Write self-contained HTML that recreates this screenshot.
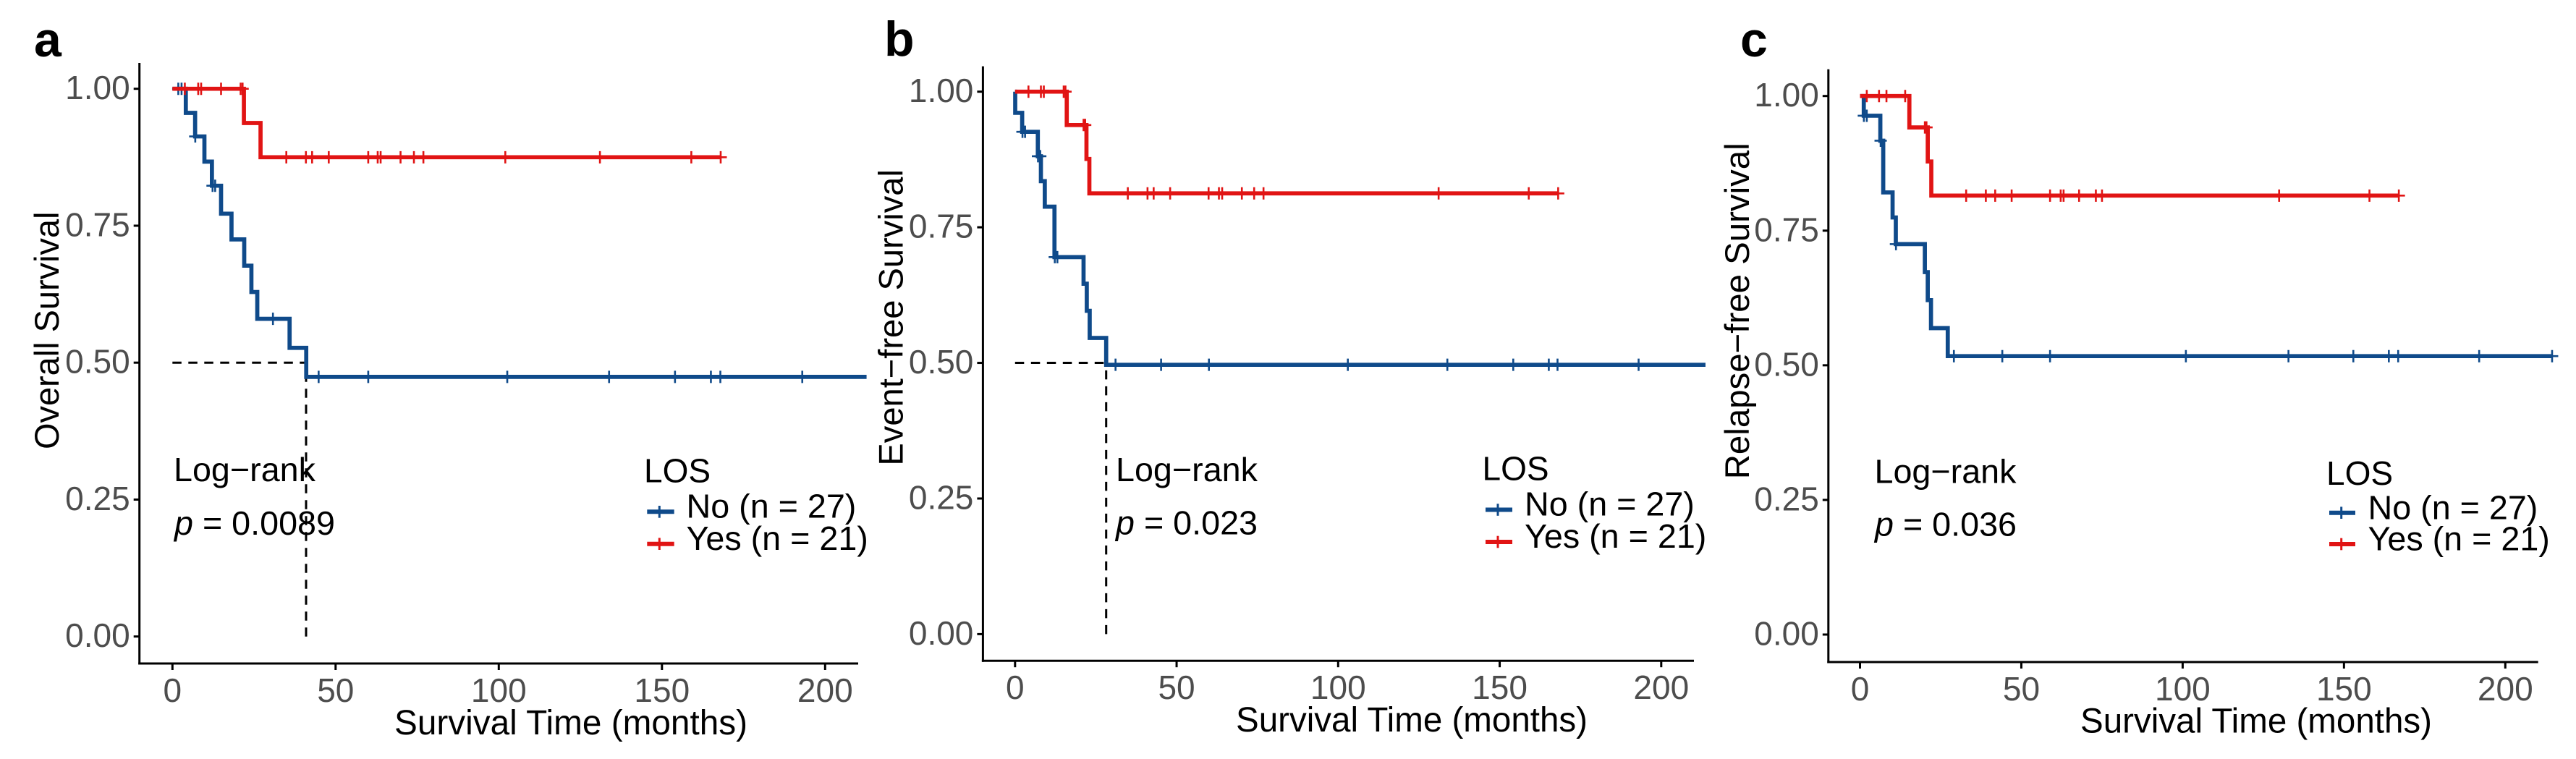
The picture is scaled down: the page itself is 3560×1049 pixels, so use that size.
<!DOCTYPE html>
<html lang="en">
<head>
<meta charset="utf-8">
<title>Survival curves by LOS</title>
<style>
html,body{margin:0;padding:0;background:#fff;}
svg{display:block;}
text{font-family:"Liberation Sans",Arial,sans-serif;}
</style>
</head>
<body>
<svg id="figure" xmlns="http://www.w3.org/2000/svg" width="3560" height="1049" viewBox="0 0 3560 1049">
  <rect x="0" y="0" width="3560" height="1049" fill="#ffffff"/>
  <g id="panel-a"></g>
  <g id="panel-b"></g>
  <g id="panel-c"></g>

  <g fill="#000">
    <text x="47" y="78" font-size="68" font-weight="700">a</text>
    <text transform="translate(81,621) rotate(-90)" font-size="47" textLength="328.5" lengthAdjust="spacingAndGlyphs">Overall Survival</text>
    <text x="545" y="1015" font-size="48" textLength="488" lengthAdjust="spacingAndGlyphs">Survival Time (months)</text>
    <text x="240" y="665" font-size="46.7">Log−rank</text>
    <text x="241" y="739" font-size="46.7"><tspan font-style="italic">p</tspan> = 0.0089</text>
    <text x="890" y="666.7" font-size="46">LOS</text>
    <line x1="894.3" x2="931.7" y1="707.3" y2="707.3" stroke="#0f4a8a" stroke-width="6"/>
    <line x1="911.3" x2="911.3" y1="699" y2="715.7" stroke="#0f4a8a" stroke-width="3"/>
    <line x1="894.3" x2="931.7" y1="751.7" y2="751.7" stroke="#e11414" stroke-width="6"/>
    <line x1="911.3" x2="911.3" y1="743.4" y2="760" stroke="#e11414" stroke-width="3"/>
    <text x="948.5" y="715.7" font-size="46.7">No (n = 27)</text>
    <text x="948.5" y="760" font-size="46.7">Yes (n = 21)</text>
  </g>

  <g fill="#000">
    <text x="1222" y="77" font-size="68" font-weight="700">b</text>
    <text transform="translate(1247.4,643.6) rotate(-90)" font-size="47" textLength="409.5" lengthAdjust="spacingAndGlyphs">Event−free Survival</text>
    <text x="1708" y="1011" font-size="48" textLength="486" lengthAdjust="spacingAndGlyphs">Survival Time (months)</text>
    <text x="1542" y="665" font-size="46.7">Log−rank</text>
    <text x="1542" y="738.5" font-size="46.7"><tspan font-style="italic">p</tspan> = 0.023</text>
    <text x="2048.5" y="663.7" font-size="46">LOS</text>
    <line x1="2053" x2="2090" y1="704.5" y2="704.5" stroke="#0f4a8a" stroke-width="6"/>
    <line x1="2070" x2="2070" y1="696.2" y2="712.8" stroke="#0f4a8a" stroke-width="3"/>
    <line x1="2053" x2="2090" y1="749" y2="749" stroke="#e11414" stroke-width="6"/>
    <line x1="2070" x2="2070" y1="740.7" y2="757.3" stroke="#e11414" stroke-width="3"/>
    <text x="2107" y="712.7" font-size="46.7">No (n = 27)</text>
    <text x="2107" y="757" font-size="46.7">Yes (n = 21)</text>
  </g>

  <g fill="#000">
    <text x="2405" y="78" font-size="68" font-weight="700">c</text>
    <text transform="translate(2417,662.3) rotate(-90)" font-size="47" textLength="465" lengthAdjust="spacingAndGlyphs">Relapse−free Survival</text>
    <text x="2875" y="1012.3" font-size="48" textLength="486" lengthAdjust="spacingAndGlyphs">Survival Time (months)</text>
    <text x="2590.5" y="667.3" font-size="46.7">Log−rank</text>
    <text x="2591" y="740.6" font-size="46.7"><tspan font-style="italic">p</tspan> = 0.036</text>
    <text x="3215" y="670" font-size="46">LOS</text>
    <line x1="3219" x2="3255" y1="708.7" y2="708.7" stroke="#0f4a8a" stroke-width="6"/>
    <line x1="3235.7" x2="3235.7" y1="700.4" y2="717" stroke="#0f4a8a" stroke-width="3"/>
    <line x1="3219" x2="3255" y1="752" y2="752" stroke="#e11414" stroke-width="6"/>
    <line x1="3235.7" x2="3235.7" y1="743.7" y2="760.3" stroke="#e11414" stroke-width="3"/>
    <text x="3272.5" y="717.3" font-size="46.7">No (n = 27)</text>
    <text x="3272.5" y="760.7" font-size="46.7">Yes (n = 21)</text>
  </g>
</svg>

<script>
// Shared tick values
const xTickValues = [0, 50, 100, 150, 200];
const xTickLabels = ['0', '50', '100', '150', '200'];
const yTickValues = [0, 0.25, 0.5, 0.75, 1];
const yTickLabels = ['0.00', '0.25', '0.50', '0.75', '1.00'];

// Panel a: overall survival
const aNoEventTimes = [4.1, 6.95, 9.8, 12.1, 14.9, 18.1, 22.0, 24.2, 26.0, 35.9, 41.0];
const aNoSurvival = [0.956, 0.913, 0.867, 0.823, 0.772, 0.725, 0.677, 0.629, 0.58, 0.527, 0.474];
const aNoCensored = [1.8, 2.8, 7.0, 12.3, 13.1, 30.8, 44.8, 60, 102.6, 133.8, 154, 165, 167.9, 193];
const aNoEnd = 212.7;
const aYesEventTimes = [21.9, 27.0];
const aYesSurvival = [0.9375, 0.875];
const aYesCensored = [3.8, 7.9, 8.8, 14.9, 20.9, 21.5, 34.9, 40.9, 42.8, 47.9, 60, 62.9, 63.8, 69.9, 74, 76.9, 102, 131, 159, 168];
const aYesEnd = 168;
const aMedian = 40.95;

// Panel b: event-free survival
const bNoEventTimes = [0.05, 2.2, 7.05, 8.0, 9.2, 12.2, 21.2, 22.2, 23.1, 28.2];
const bNoSurvival = [0.961, 0.926, 0.881, 0.835, 0.788, 0.695, 0.646, 0.596, 0.546, 0.4965];
const bNoCensored = [2.3, 3.1, 7.1, 7.8, 12.3, 13.1, 31.1, 45.2, 60, 103, 133.8, 154.2, 165.2, 167.9, 193];
const bNoEnd = 213.7;
const bYesEventTimes = [16.0, 22.1, 23.0];
const bYesSurvival = [0.9385, 0.876, 0.8125];
const bYesCensored = [4.15, 8.0, 8.9, 15.05, 15.6, 21.2, 21.7, 34.9, 41, 42.9, 48, 59.9, 63.1, 64.1, 70.2, 74, 76.9, 131.1, 159, 168.1];
const bYesEnd = 168.1;
const bMedian = 28.2;

// Panel c: relapse-free survival
const cNoEventTimes = [1.17, 6.3, 7.2, 10.1, 11.1, 20.1, 21.0, 22.0, 27.2];
const cNoSurvival = [0.9634, 0.917, 0.821, 0.7745, 0.725, 0.673, 0.621, 0.569, 0.517];
const cNoCensored = [1.2, 2.1, 6.4, 11.15, 29.1, 44.1, 58.9, 101, 132.8, 152.9, 163.9, 166.8, 191.9, 214.5];
const cNoEnd = 214.5;
const cYesEventTimes = [15.3, 21.0, 22.1];
const cYesSurvival = [0.9417, 0.8784, 0.8151];
const cYesCensored = [2.1, 5.9, 8.2, 14.0, 20.1, 20.6, 32.9, 39, 41.9, 47, 58.9, 62.2, 63.1, 67.9, 73.1, 75, 129.9, 157.9, 167];
const cYesEnd = 167;

// Axis geometry (layout only)
const layoutA = {id: 'a', x0: 238.3, xPerMonth: 4.51, y0: 879.7, y1: 122.7, axisX: 192.7, axisY: 917, axisTop: 87, axisRight: 1186};
const layoutB = {id: 'b', x0: 1402.8, xPerMonth: 4.465, y0: 876.4, y1: 126.7, axisX: 1358.4, axisY: 913.2, axisTop: 91.6, axisRight: 2341};
const layoutC = {id: 'c', x0: 2570.5, xPerMonth: 4.459, y0: 877, y1: 132.7, axisX: 2526.8, axisY: 915, axisTop: 95.7, axisRight: 3507.7};

const NS = 'http://www.w3.org/2000/svg';
const BLUE = '#0f4a8a';
const RED = '#e11414';

function makeEl(parent, tag, attrs) {
  const el = document.createElementNS(NS, tag);
  for (const k in attrs) el.setAttribute(k, attrs[k]);
  parent.appendChild(el);
  return el;
}

function survivalAt(t, times, surv) {
  let s = 1;
  for (let i = 0; i < times.length; i++) {
    if (t >= times[i]) s = surv[i];
  }
  return s;
}

function drawAxes(g, L, sx, sy) {
  const yAxis = makeEl(g, 'line', {x1: L.axisX, x2: L.axisX, y1: L.axisTop, y2: L.axisY + 1.5, stroke: '#000', 'stroke-width': 3});
  
  
  const xAxis = makeEl(g, 'line', {x1: L.axisX - 1.5, x2: L.axisRight, y1: L.axisY, y2: L.axisY, stroke: '#000', 'stroke-width': 3});
  
  

  xTickValues.forEach(function (v, i) {
    const tick = makeEl(g, 'line', {x1: sx(v), x2: sx(v), y1: L.axisY, y2: L.axisY + 9, stroke: '#000', 'stroke-width': 3});
    
    
    const label = makeEl(g, 'text', {x: sx(v), y: L.axisY + 53, 'font-size': 46, fill: '#4d4d4d', 'text-anchor': 'middle'});
    label.textContent = xTickLabels[i];
    
    
  });

  yTickValues.forEach(function (v, i) {
    const tick = makeEl(g, 'line', {x1: L.axisX - 8, x2: L.axisX, y1: sy(v), y2: sy(v), stroke: '#000', 'stroke-width': 3});
    
    
    const label = makeEl(g, 'text', {x: L.axisX - 13, y: sy(v) + 14.5, 'font-size': 46, fill: '#4d4d4d', 'text-anchor': 'end'});
    label.textContent = yTickLabels[i];
    
    
  });
}

function drawMedian(g, L, sx, sy, median) {
  if (median === null) return;
  const h = makeEl(g, 'line', {x1: sx(0), x2: sx(median), y1: sy(0.5), y2: sy(0.5), stroke: '#000', 'stroke-width': 3, 'stroke-dasharray': '12.5 9.5'});
  
  
  const v = makeEl(g, 'line', {x1: sx(median), x2: sx(median), y1: sy(0), y2: sy(0.5), stroke: '#000', 'stroke-width': 3, 'stroke-dasharray': '12.5 9.5'});
  
  
}

function drawSeries(g, L, sx, sy, name, color, times, surv, censored, end) {
  let d = 'M' + sx(0) + ' ' + sy(1);
  let prev = 1;
  times.forEach(function (t, i) {
    d += ' L' + sx(t) + ' ' + sy(prev) + ' L' + sx(t) + ' ' + sy(surv[i]);
    prev = surv[i];
  });
  d += ' L' + sx(end) + ' ' + sy(prev);
  const curve = makeEl(g, 'path', {d: d, fill: 'none', stroke: color, 'stroke-width': 5.7, 'stroke-linejoin': 'miter', 'stroke-linecap': 'butt'});
  
  

  censored.forEach(function (t, i) {
    const s = survivalAt(t, times, surv);
    const mark = makeEl(g, 'path', {
      d: 'M' + (sx(t) - 8.5) + ' ' + sy(s) + ' H' + (sx(t) + 8.5) + ' M' + sx(t) + ' ' + (sy(s) - 8.5) + ' V' + (sy(s) + 8.5),
      fill: 'none', stroke: color, 'stroke-width': 2.6
    });
    
    
  });
}

function drawPanel(L, noT, noS, noC, noEnd, yesT, yesS, yesC, yesEnd, median) {
  const g = document.getElementById('panel-' + L.id);
  const sx = function (t) { return L.x0 + t * L.xPerMonth; };
  const sy = function (s) { return L.y0 - s * (L.y0 - L.y1); };
  drawAxes(g, L, sx, sy);
  drawMedian(g, L, sx, sy, median);
  drawSeries(g, L, sx, sy, 'no', BLUE, noT, noS, noC, noEnd);
  drawSeries(g, L, sx, sy, 'yes', RED, yesT, yesS, yesC, yesEnd);
}

drawPanel(layoutA, aNoEventTimes, aNoSurvival, aNoCensored, aNoEnd, aYesEventTimes, aYesSurvival, aYesCensored, aYesEnd, aMedian);
drawPanel(layoutB, bNoEventTimes, bNoSurvival, bNoCensored, bNoEnd, bYesEventTimes, bYesSurvival, bYesCensored, bYesEnd, bMedian);
drawPanel(layoutC, cNoEventTimes, cNoSurvival, cNoCensored, cNoEnd, cYesEventTimes, cYesSurvival, cYesCensored, cYesEnd, null);
</script>
</body>
</html>
